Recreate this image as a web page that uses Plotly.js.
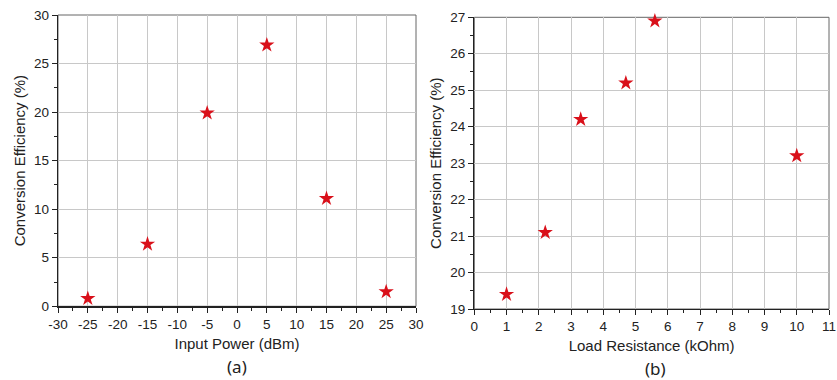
<!DOCTYPE html>
<html>
<head>
<meta charset="utf-8">
<script src="https://cdn.plot.ly/plotly-3.0.1.min.js"></script>
<style>html,body{margin:0;padding:0;background:#fff;}#chart{width:837px;height:380px;}</style>
</head>
<body>
<div id="chart"></div>
<script>
// Panel (a)
const inputPower = [-25, -15, -5, 5, 15, 25];
const efficiencyA = [0.8, 6.4, 19.9, 26.9, 11.1, 1.5];
// Panel (b)
const loadResistance = [1, 2.2, 3.3, 4.7, 5.6, 10];
const efficiencyB = [19.4, 21.1, 24.2, 25.2, 26.9, 23.2];

const xTicksA = [-30, -25, -20, -15, -10, -5, 0, 5, 10, 15, 20, 25, 30];
const xTickTextA = ['-30', '-25', '-20', '-15', '-10', '-5', '0', '5', '10', '15', '20', '25', '30'];
const yTicksA = [0, 5, 10, 15, 20, 25, 30];
const xTicksB = [0, 1, 2, 3, 4, 5, 6, 7, 8, 9, 10, 11];
const yTicksB = [19, 20, 21, 22, 23, 24, 25, 26, 27];

const starColor = '#d9101a';
const marker = {symbol: 'star', size: 11.5, color: starColor, line: {width: 0}};

const traces = [
  {x: inputPower, y: efficiencyA, type: 'scatter', mode: 'markers', marker: marker, xaxis: 'x', yaxis: 'y', cliponaxis: false},
  {x: loadResistance, y: efficiencyB, type: 'scatter', mode: 'markers', marker: marker, xaxis: 'x2', yaxis: 'y2', cliponaxis: false}
];

const FAM = 'Liberation Sans, Arial, sans-serif';
const font = {family: FAM, size: 13.5, color: '#222'};
const titleFont = {family: FAM, size: 15, color: '#222'};
function minor(d) {
  return {dtick: d, tick0: 0, ticks: 'outside', ticklen: 3, tickwidth: 1, tickcolor: '#222', showgrid: false};
}
function ax(opts) {
  return Object.assign({
    showline: true, linecolor: '#222', linewidth: 1.2,
    ticks: 'outside', ticklen: 5, tickwidth: 1, tickcolor: '#222',
    showgrid: true, gridcolor: '#c8c8c8', gridwidth: 1,
    zeroline: false, tickfont: font, fixedrange: true,
    ticklabeloverflow: 'allow'
  }, opts);
}

const layout = {
  width: 837, height: 380,
  margin: {l: 0, r: 0, t: 0, b: 0},
  paper_bgcolor: '#fff', plot_bgcolor: '#fff',
  showlegend: false,
  font: font,
  xaxis: ax({domain: [58/837, 416/837], range: [-30, 30], tickvals: xTicksA, ticktext: xTickTextA, anchor: 'y',
    minor: minor(2.5),
    title: {text: 'Input Power (dBm)', font: titleFont, standoff: 7}}),
  yaxis: ax({domain: [1 - 306.3/380, 1 - 15/380], range: [0, 30], tickvals: yTicksA, anchor: 'x',
    minor: minor(2.5),
    title: {text: 'Conversion Efficiency (%)', font: titleFont, standoff: 4}}),
  xaxis2: ax({domain: [474.3/837, 829/837], range: [0, 11], tickvals: xTicksB, anchor: 'y2',
    minor: minor(0.5),
    title: {text: 'Load Resistance (kOhm)', font: titleFont, standoff: 7}}),
  yaxis2: ax({domain: [1 - 309/380, 1 - 17.3/380], range: [19, 27], tickvals: yTicksB, anchor: 'x2',
    minor: minor(0.5),
    title: {text: 'Conversion Efficiency (%)', font: titleFont, standoff: 5}}),
  shapes: [
    {type: 'rect', xref: 'x domain', yref: 'y domain', x0: 0, x1: 1, y0: 0, y1: 1, line: {color: '#666', width: 1}, layer: 'below'},
    {type: 'rect', xref: 'x2 domain', yref: 'y2 domain', x0: 0, x1: 1, y0: 0, y1: 1, line: {color: '#666', width: 1}, layer: 'below'}
  ],
  annotations: [
    {text: '(a)', xref: 'paper', yref: 'paper', x: 237/837, y: 1 - 366/380, showarrow: false,
      font: {family: 'Noto Sans, sans-serif', size: 17, color: '#222'}, xanchor: 'center', yanchor: 'middle'},
    {text: '(b)', xref: 'paper', yref: 'paper', x: 655/837, y: 1 - 368/380, showarrow: false,
      font: {family: 'Noto Sans, sans-serif', size: 17, color: '#222'}, xanchor: 'center', yanchor: 'middle'}
  ]
};

Plotly.newPlot('chart', traces, layout, {displayModeBar: false, staticPlot: true});
</script>
</body>
</html>
